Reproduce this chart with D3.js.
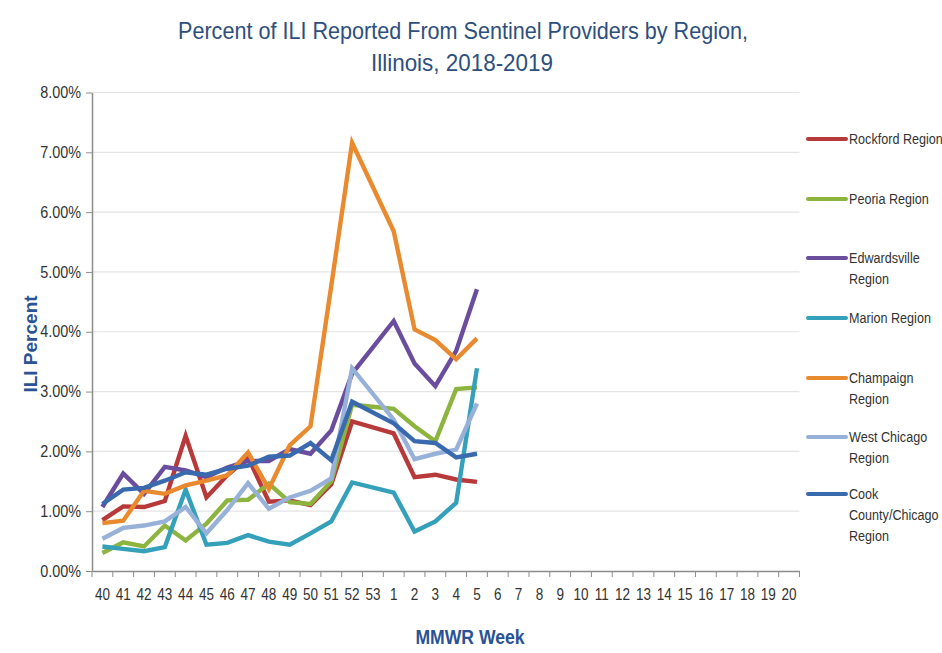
<!DOCTYPE html>
<html><head><meta charset="utf-8">
<script src="https://cdn.jsdelivr.net/npm/d3@7"></script>
<style>
html,body{margin:0;padding:0;background:#fff;}
svg{display:block;}
</style></head>
<body>
<svg id="chart" width="942" height="653"></svg>
<script>
const weeks = ["40","41","42","43","44","45","46","47","48","49","50","51","52","53","1","2","3","4","5","6","7","8","9","10","11","12","13","14","15","16","17","18","19","20"];
const yTicks = [0,1,2,3,4,5,6,7,8];

const rockford     = [0.85,1.08,1.07,1.17,2.26,1.23,1.60,1.90,1.16,1.18,1.10,1.45,2.50,null,2.30,1.57,1.61,1.53,1.49];
const peoria       = [0.30,0.48,0.41,0.76,0.51,0.79,1.18,1.19,1.46,1.15,1.12,1.50,2.78,null,2.71,2.42,2.17,3.04,3.07];
const edwardsville = [1.07,1.63,1.29,1.74,1.68,1.57,1.73,1.84,1.84,2.04,1.96,2.35,3.30,null,4.18,3.47,3.09,3.68,4.71];
const marion       = [0.41,0.37,0.33,0.40,1.36,0.44,0.47,0.60,0.49,0.44,0.63,0.83,1.48,null,1.31,0.66,0.83,1.14,3.39];
const champaign    = [0.80,0.84,1.34,1.29,1.43,1.51,1.60,1.98,1.37,2.10,2.42,4.77,7.16,null,5.68,4.04,3.86,3.54,3.89];
const westChicago  = [0.54,0.72,0.76,0.83,1.07,0.63,1.02,1.47,1.04,1.23,1.34,1.55,3.39,null,2.53,1.87,1.96,2.03,2.80];
const cook         = [1.12,1.36,1.39,1.51,1.65,1.61,1.71,1.76,1.91,1.93,2.14,1.85,2.83,null,2.47,2.17,2.14,1.90,1.96];

const seriesNames = [["Rockford Region"],["Peoria Region"],["Edwardsville","Region"],["Marion Region"],["Champaign","Region"],["West Chicago","Region"],["Cook","County/Chicago","Region"]];
const seriesValues = [rockford, peoria, edwardsville, marion, champaign, westChicago, cook];
const colors = ["#b8393a","#8cb43f","#6b4d9d","#35a0b9","#e98a2f","#98b1d9","#3a6aae"];

const FONT = "'Liberation Sans',Arial,sans-serif";
const svg = d3.select("#chart");
const pLeft = 92, pRight = 799.5, pTop = 92.5, pBottom = 571;

const x = d3.scaleBand().domain(weeks).range([pLeft, pRight]).padding(0);
const y = d3.scaleLinear().domain([0, 8]).range([pBottom, pTop]);

// gridlines
svg.append("g").selectAll("line").data(yTicks.filter(d => d > 0)).join("line")
  .attr("x1", pLeft).attr("x2", pRight)
  .attr("y1", d => y(d)).attr("y2", d => y(d))
  .attr("stroke", "#e4e4e4").attr("stroke-width", 1.2);

// y axis
const yAxis = svg.append("g").attr("transform", `translate(${pLeft},0)`)
  .call(d3.axisLeft(y).tickValues(yTicks).tickFormat(d => d.toFixed(2) + "%").tickSize(6).tickSizeOuter(0));
yAxis.select(".domain").attr("stroke", "#8c8c8c").attr("stroke-width", 1.5);
yAxis.selectAll(".tick line").attr("stroke", "#8c8c8c");
yAxis.selectAll(".tick text").attr("font-family", FONT).attr("font-size", 16).attr("fill", "#333")
  .attr("x", 0).attr("transform", "translate(-11,0) scale(0.9,1)");

// x axis
const xAxis = svg.append("g").attr("transform", `translate(0,${pBottom})`)
  .call(d3.axisBottom(x).tickSize(0).tickSizeOuter(0));
xAxis.select(".domain").attr("stroke", "#8c8c8c").attr("stroke-width", 1.5);
xAxis.selectAll(".tick text").attr("font-family", FONT).attr("font-size", 16.5).attr("fill", "#333")
  .attr("dy", "1.6em").attr("transform", "scale(0.82,1)");
// boundary tick marks
xAxis.append("g").selectAll("line").data(weeks).join("line")
  .attr("x1", d => x(d) + x.bandwidth()).attr("x2", d => x(d) + x.bandwidth())
  .attr("y1", 0).attr("y2", 6).attr("stroke", "#8c8c8c");
xAxis.append("line").attr("x1", pLeft).attr("x2", pLeft).attr("y1", 0).attr("y2", 6).attr("stroke", "#8c8c8c");

// lines
const line = d3.line()
  .x(d => x(d.w) + x.bandwidth() / 2)
  .y(d => y(d.v));
seriesValues.forEach((vals, i) => {
  const pts = vals.map((v, j) => ({w: weeks[j], v})).filter(d => d.v !== null);
  svg.append("path").datum(pts)
    .attr("fill", "none").attr("stroke", colors[i]).attr("stroke-width", 4.4)
    .attr("stroke-linejoin", "miter").attr("d", line);
});

// legend
const legY = [139, 199, 258, 318, 378, 437, 494];
seriesNames.forEach((name, i) => {
  const g = svg.append("g").attr("transform", `translate(808,${legY[i]})`);
  g.append("line").attr("x1", 0).attr("x2", 38).attr("y1", 0).attr("y2", 0)
    .attr("stroke", colors[i]).attr("stroke-width", 4).attr("stroke-linecap", "round");
  const t = g.append("text").attr("transform", "translate(41,0) scale(0.84,1)")
    .attr("font-family", FONT).attr("font-size", 15).attr("fill", "#333");
  name.forEach((ln, k) => t.append("tspan").attr("x", 0).attr("dy", k === 0 ? "0.35em" : 21).text(ln));
});

// title
const title = svg.append("text").attr("text-anchor", "middle").attr("font-family", FONT)
  .attr("font-size", 24).attr("fill", "#2e4f7e");
title.append("tspan").attr("x", 463).attr("y", 39).attr("textLength", 570).attr("lengthAdjust", "spacingAndGlyphs")
  .text("Percent of ILI Reported From Sentinel Providers by Region,");
title.append("tspan").attr("x", 462).attr("y", 71).attr("textLength", 182).attr("lengthAdjust", "spacingAndGlyphs")
  .text("Illinois, 2018-2019");

// axis titles
svg.append("text").attr("transform", "translate(470,644) scale(0.88,1)").attr("text-anchor", "middle")
  .attr("font-family", FONT).attr("font-weight", "bold").attr("font-size", 20).attr("fill", "#2a5395").text("MMWR Week");
svg.append("text").attr("transform", "translate(37,344) rotate(-90)").attr("text-anchor", "middle")
  .attr("font-family", FONT).attr("font-weight", "bold").attr("font-size", 19).attr("fill", "#2a5395").text("ILI Percent");
</script>
</body></html>
